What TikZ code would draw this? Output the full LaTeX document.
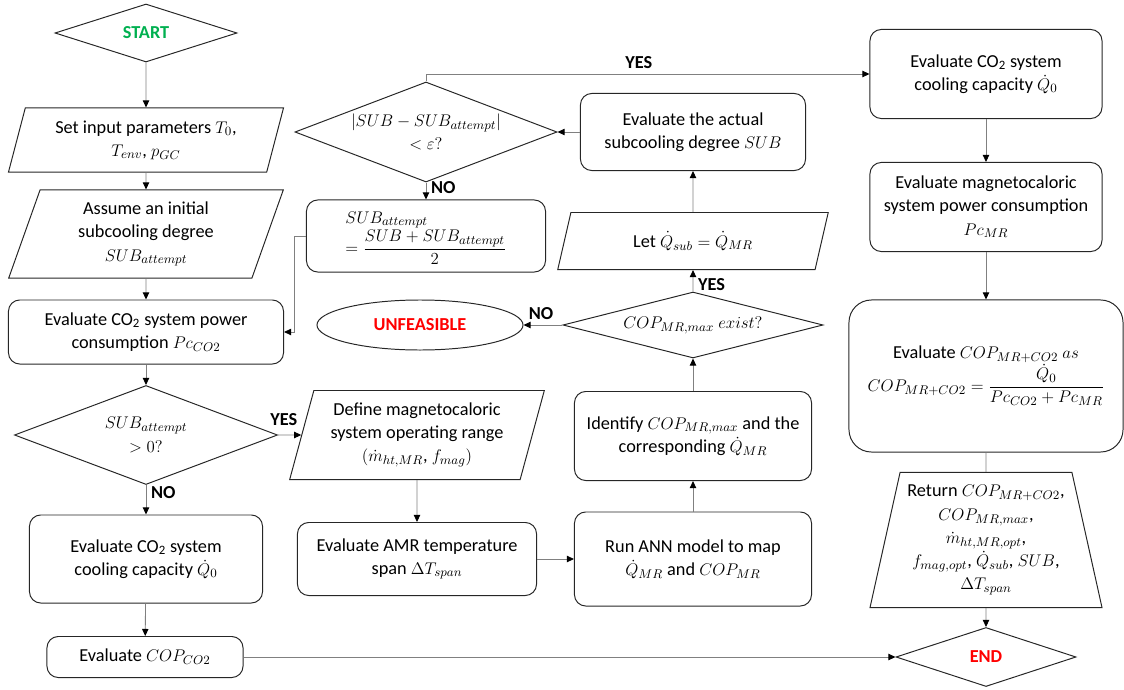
\documentclass[tikz,border=0pt]{standalone}
\usepackage{amsmath}
\usepackage{fontspec}
\setmainfont{Carlito}
\usepackage{tikz}
\usetikzlibrary{shapes.geometric,arrows.meta}
\definecolor{startgreen}{RGB}{0,176,80}
\definecolor{endred}{RGB}{255,0,0}
\definecolor{linegray}{RGB}{128,128,128}

\begin{document}
\begin{tikzpicture}[x=0.025cm, y=-0.025cm,
    every node/.style={font=\fontsize{13}{16.5}\selectfont},
    proc/.style={draw=black!85, line width=0.7pt, rounded corners=8pt, align=center, inner sep=2pt},
    io/.style={draw=black!85, line width=0.7pt, trapezium, trapezium left angle=73, trapezium right angle=107, trapezium stretches=true, align=center, inner sep=1pt},
    decision/.style={draw=black!85, line width=0.7pt, diamond, align=center, inner sep=0pt},
    flow/.style={draw=linegray, line width=0.6pt, -{Triangle[length=5pt,width=4.5pt,color=black]}},
    lbl/.style={font=\fontsize{13}{16}\selectfont\bfseries}]
    \useasboundingbox (0,0) rectangle (1124,690);
    % left column
    \node (start) at (146,33) [decision, aspect=3.1, minimum width=4.55cm, minimum height=1.45cm] {\textcolor{startgreen}{\bfseries START}};
    \node (setin) at (146,140) [io, minimum width=6.875cm, minimum height=1.6cm] {Set input parameters $T_0$,\\ $T_{env}$, $p_{GC}$};
    \node (assume) at (146,234) [io, minimum width=6.875cm, minimum height=2.2cm] {Assume an initial\\ subcooling degree\\ $SUB_{attempt}$};
    \node (evpow) at (146,332) [proc, minimum width=6.875cm, minimum height=1.6cm] {Evaluate CO\textsubscript{2} system power\\ consumption $Pc_{CO2}$};
    \node (subpos) at (146,435) [decision, aspect=2.66, minimum width=6.575cm, minimum height=2.475cm] {$SUB_{attempt}$\\ $>0?$};
    \node (evcool) at (146,559) [proc, minimum width=5.825cm, minimum height=2.2cm] {Evaluate CO\textsubscript{2} system\\ cooling capacity $\dot{Q}_0$};
    \node (copco2) at (145,657) [proc, minimum width=4.9cm, minimum height=1.025cm] {Evaluate $COP_{CO2}$};
    % middle column
    \node (conv) at (426,132) [decision, aspect=2.62, minimum width=6.55cm, minimum height=2.5cm] {$\left|SUB - SUB_{attempt}\right|$\\ $<\varepsilon?$};
    \node (update) at (426,236) [proc, minimum width=5.975cm, minimum height=1.8cm] {$\begin{array}{l} SUB_{attempt}\\ =\dfrac{SUB + SUB_{attempt}}{2}\end{array}$};
    \node (unfeas) at (420,325) [ellipse, draw=black!85, line width=0.7pt, minimum width=5.15cm, minimum height=1.25cm] {\textcolor{endred}{\bfseries UNFEASIBLE}};
    \node (define) at (417,435) [io, minimum width=6.375cm, minimum height=2.225cm] {Define magnetocaloric\\ system operating range\\ $(\dot{m}_{ht,MR}$, $f_{mag})$};
    \node (amr) at (417,559) [proc, minimum width=5.975cm, minimum height=1.825cm] {Evaluate AMR temperature\\ span $\Delta T_{span}$};
    % second middle column
    \node (actual) at (693,132) [proc, minimum width=5.625cm, minimum height=1.925cm] {Evaluate the actual\\ subcooling degree $SUB$};
    \node (letq) at (693,241) [io, minimum width=6.8cm, minimum height=1.425cm] {Let $\dot{Q}_{sub}=\dot{Q}_{MR}$};
    \node (exist) at (693,325) [decision, aspect=3.94, minimum width=6.5cm, minimum height=1.65cm] {$COP_{MR,max}\ exist?$};
    \node (identify) at (693,436) [proc, minimum width=5.925cm, minimum height=2.225cm] {Identify $COP_{MR,max}$ and the\\ corresponding $\dot{Q}_{MR}$};
    \node (ann) at (693,559) [proc, minimum width=5.925cm, minimum height=2.35cm] {Run ANN model to map\\ $\dot{Q}_{MR}$ and $COP_{MR}$};
    % right column
    \node (evcool2) at (986,74) [proc, minimum width=5.8cm, minimum height=2.225cm] {Evaluate CO\textsubscript{2} system\\ cooling capacity $\dot{Q}_0$};
    \node (evmr) at (986,207) [proc, minimum width=5.8cm, minimum height=2.225cm] {Evaluate magnetocaloric\\ system power consumption\\ $Pc_{MR}$};
    \node (copall) at (986,376) [proc, rounded corners=16pt, minimum width=6.85cm, minimum height=3.8cm] {Evaluate $COP_{MR+CO2}$ $as$\\ $COP_{MR+CO2}=\dfrac{\dot{Q}_0}{Pc_{CO2}+Pc_{MR}}$};
    \node (ret) at (986,540) [draw=black!85, line width=0.7pt, trapezium, trapezium left angle=76, trapezium right angle=76, trapezium stretches=true, align=center, inner sep=1pt, minimum width=5.8cm, minimum height=3.375cm] {Return $COP_{MR+CO2}$,\\ $COP_{MR,max}$,\\ $\dot{m}_{ht,MR,opt}$,\\ $f_{mag,opt}$, $\dot{Q}_{sub}$, $SUB$,\\ $\Delta T_{span}$};
    \node (end) at (986,657) [decision, aspect=3.05, minimum width=4.5cm, minimum height=1.475cm] {\textcolor{endred}{\bfseries END}};
    % connectors
    \draw [flow] (start) -- (setin);
    \draw [flow] (setin) -- (assume);
    \draw [flow] (assume) -- (evpow);
    \draw [flow] (evpow) -- (subpos);
    \draw [flow] (subpos.east) -- node [lbl, above, pos=0.25, yshift=3pt] {YES} (define.west);
    \draw [flow] (subpos) -- node [lbl, right, pos=0.25] {NO} (evcool);
    \draw [flow] (evcool) -- (copco2);
    \draw [flow] (copco2) -- (end);
    \draw [flow] (define) -- (amr);
    \draw [flow] (amr) -- (ann);
    \draw [flow] (ann) -- (identify);
    \draw [flow] (identify) -- (exist);
    \draw [flow] (exist) -- node [lbl, right, pos=0.3] {YES} (letq);
    \draw [flow] (exist) -- node [lbl, above, pos=0.55] {NO} (unfeas);
    \draw [flow] (letq) -- (actual);
    \draw [flow] (actual) -- (conv);
    \draw [flow] (conv) -- node [lbl, right, pos=0.3] {NO} (update);
    \draw [flow] (update.west) -- ++(-12,0) |- (evpow.east);
    \draw [flow] (conv.north) |- node [lbl, above, pos=0.74] {YES} (evcool2.west);
    \draw [flow] (evcool2) -- (evmr);
    \draw [flow] (evmr) -- (copall);
    \draw [draw=linegray, line width=0.6pt] (copall) -- (ret);
    \draw [flow] (ret) -- (end);
\end{tikzpicture}
\end{document}
